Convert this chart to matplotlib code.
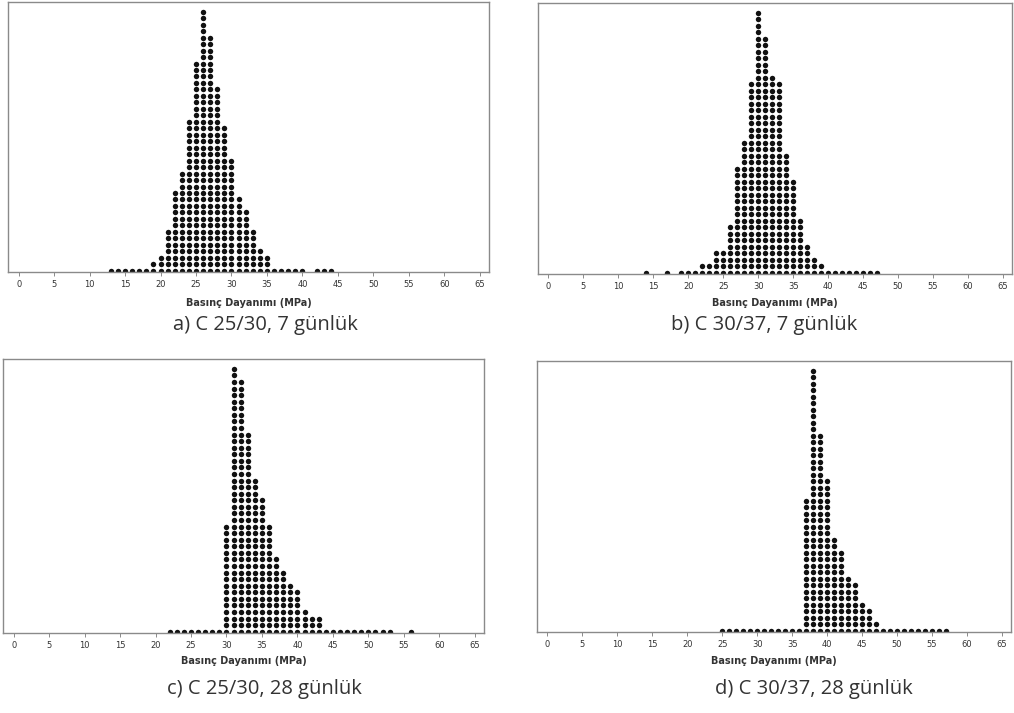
import numpy as np
import matplotlib
matplotlib.use("Agg")
import matplotlib.pyplot as plt

# ---------------- data (counts per 1 MPa bin) ----------------
a_values = list(range(13, 45))
a_counts = [1, 1, 1, 1, 1, 1, 2, 3, 7, 13, 16, 24, 33, 41, 37, 29, 23, 18, 12, 10,
            7, 4, 3, 1, 1, 1, 1, 1, 0, 1, 1, 1]

b_values = list(range(14, 48))
b_counts = [1, 0, 0, 1, 0, 1, 1, 1, 2, 2, 4, 4, 8, 17, 21, 30, 41, 37, 31, 30,
            19, 15, 9, 5, 3, 2, 1, 1, 1, 1, 1, 1, 1, 1]

c_values = list(range(22, 57))
c_counts = [1, 1, 1, 1, 1, 1, 1, 1, 17, 41, 39, 31, 24, 21, 17, 12, 10, 8, 7, 4,
            3, 3, 1, 1, 1, 1, 1, 1, 1, 1, 1, 1, 0, 0, 1]

d_values = list(range(25, 58))
d_counts = [1, 1, 1, 1, 1, 1, 1, 1, 1, 1, 1, 1, 21, 41, 31, 24, 15, 13, 9, 8,
            5, 4, 2, 1, 1, 1, 1, 1, 1, 1, 1, 1, 1]

captions = ["a) C 25/30, 7 günlük", "b) C 30/37, 7 günlük",
            "c) C 25/30, 28 günlük", "d) C 30/37, 28 günlük"]
xlabel = "Basınç Dayanımı (MPa)"
xticks = list(range(0, 70, 5))

# ---------------- layout (pixels) ----------------
W, H = 1014, 713
fig = plt.figure(figsize=(W / 100, H / 100), dpi=100)

panels = [
    dict(box=(8, 489, 2, 272), cap=(265, 325), xl=303, vals=a_values, cnts=a_counts),
    dict(box=(538, 1012, 3, 274), cap=(764, 325), xl=303, vals=b_values, cnts=b_counts),
    dict(box=(3, 484, 359, 633), cap=(264, 689), xl=661, vals=c_values, cnts=c_counts),
    dict(box=(537, 1011, 361, 632), cap=(814, 689), xl=661, vals=d_values, cnts=d_counts),
]

frame_col = "#8a8a8a"
for p, cap in zip(panels, captions):
    l, r, t, b = p["box"]
    ax = fig.add_axes([l / W, 1 - b / H, (r - l) / W, (b - t) / H])
    xs, ys = [], []
    for v, n in zip(p["vals"], p["cnts"]):
        for k in range(n):
            xs.append(v)
            ys.append(k + 0.2)
    ax.plot(xs, ys, "o", color="#111111", markersize=3.9, markeredgewidth=0)
    ax.set_xlim(-1.5, 66.3)
    ax.set_ylim(0, 41.7)
    ax.set_yticks([])
    ax.set_xticks(xticks)
    ax.set_xticklabels([str(x) for x in xticks])
    ax.tick_params(axis="x", direction="out", length=3, width=0.7,
                   color=frame_col, labelsize=6, labelcolor="#333333", pad=3)
    for s in ax.spines.values():
        s.set_color(frame_col)
        s.set_linewidth(1.0)
    cx = (l + r) / 2
    fig.text(cx / W, 1 - p["xl"] / H, xlabel, ha="center", va="center",
             fontsize=7, fontweight="bold", color="#333333")
    fig.text(p["cap"][0] / W, 1 - p["cap"][1] / H, cap, ha="center", va="center",
             fontsize=14.5, family="Open Sans", color="#333333")

fig.savefig("out.png", dpi=100)
